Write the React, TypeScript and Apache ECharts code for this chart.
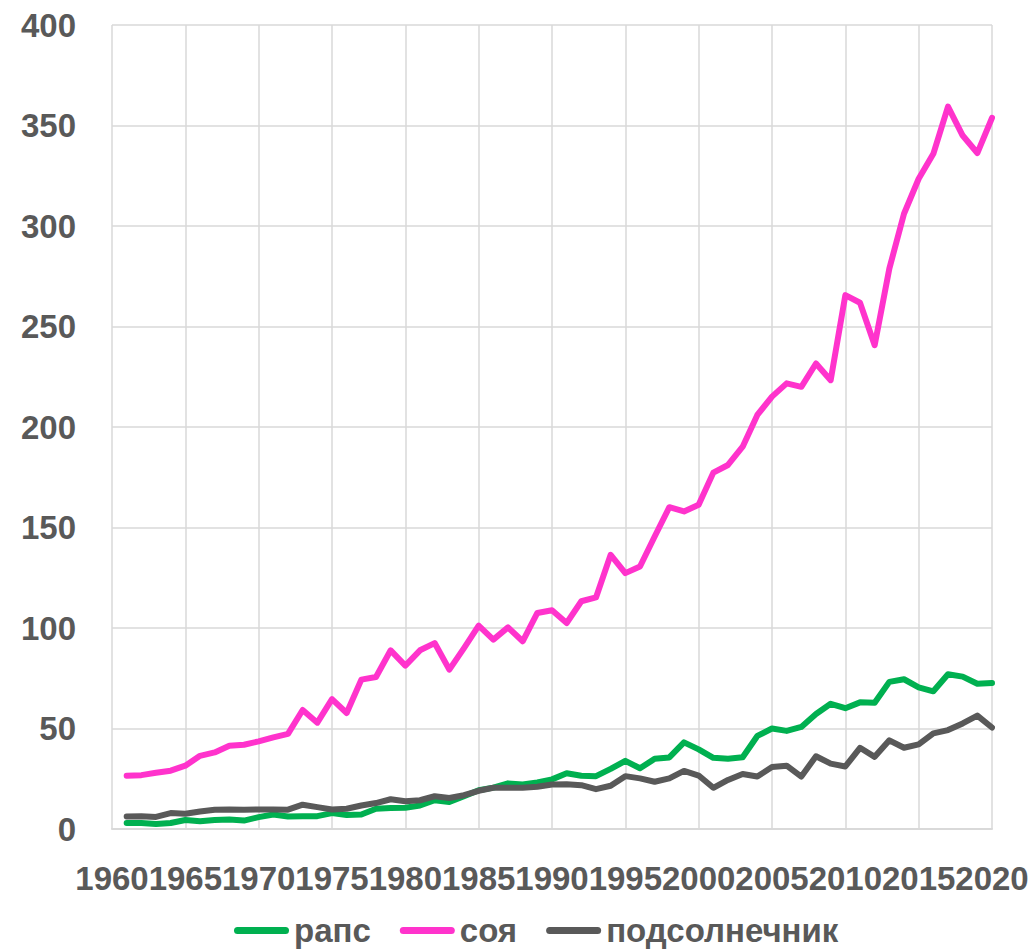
import React, { useEffect, useRef } from "react";
import * as echarts from "echarts";

const years: number[] = [
  1961, 1962, 1963, 1964, 1965, 1966, 1967, 1968, 1969, 1970,
  1971, 1972, 1973, 1974, 1975, 1976, 1977, 1978, 1979, 1980,
  1981, 1982, 1983, 1984, 1985, 1986, 1987, 1988, 1989, 1990,
  1991, 1992, 1993, 1994, 1995, 1996, 1997, 1998, 1999, 2000,
  2001, 2002, 2003, 2004, 2005, 2006, 2007, 2008, 2009, 2010,
  2011, 2012, 2013, 2014, 2015, 2016, 2017, 2018, 2019, 2020,
];

const rapeseed: number[] = [
  3.0, 3.0, 2.5, 3.0, 4.5, 3.9, 4.5, 4.7, 4.2, 5.9,
  7.2, 6.2, 6.4, 6.4, 7.9, 7.0, 7.2, 10.1, 10.4, 10.6,
  11.7, 14.3, 13.4, 16.3, 19.3, 20.6, 22.7, 22.1, 23.2, 24.7,
  27.7, 26.5, 26.3, 29.9, 33.9, 30.2, 34.9, 35.6, 43.1, 39.6,
  35.4, 35.0, 35.7, 46.3, 50.0, 48.8, 50.8, 57.2, 62.3, 60.1,
  63.0, 62.8, 73.2, 74.5, 70.5, 68.5, 77.0, 75.8, 72.3, 72.6,
];

const soybean: number[] = [
  26.5, 26.8, 28.0, 29.0, 31.5, 36.4, 38.1, 41.4, 41.9, 43.6,
  45.6, 47.3, 59.2, 52.9, 64.6, 57.7, 74.3, 75.6, 88.9, 81.3,
  88.9, 92.5, 79.3, 90.0, 101.2, 94.2, 100.3, 93.4, 107.5, 108.8,
  102.5, 113.3, 115.2, 136.4, 127.3, 130.6, 145.5, 160.1, 158.0, 161.3,
  177.3, 181.1, 190.2, 206.0, 215.1, 221.7, 220.0, 231.6, 223.3, 265.6,
  261.8, 240.7, 278.8, 306.1, 323.5, 335.9, 359.4, 345.0, 336.3, 353.8,
];

const sunflower: number[] = [
  6.2, 6.4, 6.0, 7.9, 7.6, 8.7, 9.6, 9.7, 9.6, 9.7,
  9.7, 9.6, 12.1, 10.9, 9.7, 10.1, 11.7, 12.9, 14.8, 13.8,
  14.3, 16.3, 15.4, 16.8, 19.0, 20.5, 20.5, 20.5, 21.0, 22.1,
  22.3, 21.8, 19.8, 21.5, 26.3, 25.2, 23.5, 25.2, 28.9, 26.6,
  20.5, 24.4, 27.4, 26.1, 30.8, 31.5, 26.1, 36.2, 32.5, 31.1,
  40.4, 35.9, 44.1, 40.4, 42.1, 47.6, 49.2, 52.5, 56.4, 50.5,
];

const seriesNames: string[] = ["рапс", "соя", "подсолнечник"];
const seriesColors: string[] = ["#00B050", "#FF33CC", "#595959"];

const FONT = "'Liberation Sans', Arial, sans-serif";
const TEXT_COLOR = "#595959";
const GRID_COLOR = "#D9D9D9";
const LEGEND_ICON = "path://M3.5,0 L51.5,0 A3.5,3.5 0 0 1 51.5,7 L3.5,7 A3.5,3.5 0 0 1 3.5,0 Z";

export default function App() {
  const ref = useRef<HTMLDivElement>(null);

  useEffect(() => {
    if (!ref.current) return;
    const chart = echarts.init(ref.current, undefined, { renderer: "svg" });
    const toPairs = (vals: number[]) => years.map((y, i) => [y, vals[i]]);
    const datasets = [rapeseed, soybean, sunflower];

    chart.setOption({
      animation: false,
      backgroundColor: "#FFFFFF",
      textStyle: { fontFamily: FONT },
      grid: { left: 112, right: 42, top: 25, bottom: 120, containLabel: false },
      legend: {
        left: 234,
        top: 914,
        padding: 0,
        itemWidth: 55,
        itemHeight: 7,
        itemGap: 29,
        icon: LEGEND_ICON,
        textStyle: {
          fontFamily: FONT,
          fontSize: 33,
          fontWeight: "bold",
          color: TEXT_COLOR,
        },
        data: seriesNames.map((n, i) => ({
          name: n,
          icon: LEGEND_ICON,
          itemStyle: { color: seriesColors[i] },
        })),
      },
      xAxis: {
        type: "value",
        min: 1960,
        max: 2020,
        interval: 5,
        axisLine: { show: true, lineStyle: { color: GRID_COLOR, width: 2 } },
        axisTick: { show: false },
        axisLabel: {
          fontFamily: FONT,
          fontSize: 33,
          fontWeight: "bold",
          color: TEXT_COLOR,
          margin: 33,
          formatter: (v: number) => String(v),
        },
        splitLine: { show: true, lineStyle: { color: GRID_COLOR, width: 1.5 } },
      },
      yAxis: {
        type: "value",
        min: 0,
        max: 400,
        interval: 50,
        axisLine: { show: false },
        axisTick: { show: false },
        axisLabel: {
          fontFamily: FONT,
          fontSize: 33,
          fontWeight: "bold",
          color: TEXT_COLOR,
          margin: 36,
        },
        splitLine: { show: true, lineStyle: { color: GRID_COLOR, width: 1.5 } },
      },
      series: datasets.map((vals, i) => ({
        name: seriesNames[i],
        type: "line",
        data: toPairs(vals),
        symbol: "none",
        showSymbol: false,
        color: seriesColors[i],
        lineStyle: { color: seriesColors[i], width: 6, cap: "round", join: "round" },
        z: i === 2 ? 3 : 2,
      })),
    });

    return () => chart.dispose();
  }, []);

  return (
    <div
      ref={ref}
      style={{ position: "absolute", left: 0, top: 0, width: 1034, height: 949 }}
    />
  );
}
